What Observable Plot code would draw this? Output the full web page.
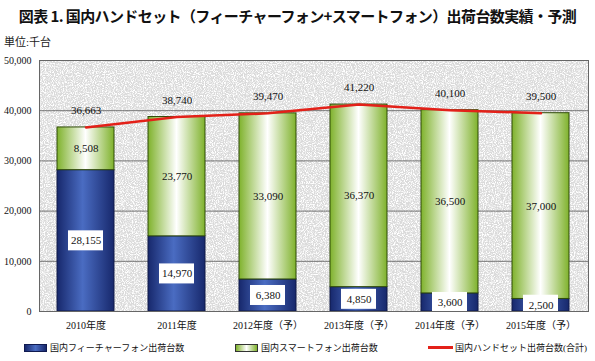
<!DOCTYPE html>
<html><head><meta charset="utf-8">
<script src="https://cdn.jsdelivr.net/npm/d3@7"></script>
<script src="https://cdn.jsdelivr.net/npm/@observablehq/plot@0.6"></script>
<style>
body{margin:0;background:#fff;width:595px;height:361px;position:relative;overflow:hidden;font-family:"Liberation Serif","Noto Sans CJK JP",serif;}
#title{position:absolute;left:0;top:5px;width:595px;text-align:center;font-family:"Noto Sans CJK JP",sans-serif;font-weight:bold;font-size:15px;letter-spacing:-0.6px;color:#111;}
#unit{position:absolute;left:4px;top:33px;font-size:11px;color:#222;}
#chart{position:absolute;left:0;top:50px;}
.leg{position:absolute;top:341px;font-size:9px;color:#111;display:flex;align-items:center;white-space:nowrap;}
.sw{display:inline-block;width:21px;height:6px;margin-right:3px;}
</style></head><body>
<div id="title">図表 1. 国内ハンドセット（フィーチャーフォン+スマートフォン）出荷台数実績・予測</div>
<div id="unit">単位:千台</div>
<div id="chart"></div>
<div class="leg" style="left:24px"><span class="sw" style="background:linear-gradient(90deg,#17286c,#4a6cc2,#17286c);border:1px solid #101a50"></span>国内フィーチャーフォン出荷台数</div>
<div class="leg" style="left:235px"><span class="sw" style="background:linear-gradient(90deg,#7fb22c,#fff,#7fb22c);border:1px solid #333"></span>国内スマートフォン出荷台数</div>
<div class="leg" style="left:428px"><span class="sw" style="height:3px;background:#e32119;width:25px;margin-right:2px;"></span>国内ハンドセット出荷台数(合計)</div>
<script>
const years = ["2010年度","2011年度","2012年度（予）","2013年度（予）","2014年度（予）","2015年度（予）"];
const feature = [28155,14970,6380,4850,3600,2500];
const smart = [8508,23770,33090,36370,36500,37000];
const total = [36663,38740,39470,41220,40100,39500];
const yTicks = [0,10000,20000,30000,40000,50000];

const data = years.map((year,i)=>({year, feature:feature[i], smart:smart[i], total:total[i]}));
const fmt = d3.format(",");
const NS = "http://www.w3.org/2000/svg";
function el(tag, attrs, parent){const e=document.createElementNS(NS,tag);for(const k in attrs)e.setAttribute(k,attrs[k]);if(parent)parent.appendChild(e);return e;}

function background(index, scales, values, dims){
  const g = el("g",{});
  const defs = el("defs",{},g);
  const gb = el("linearGradient",{id:"gBlue",x1:"0",x2:"1",y1:"0",y2:"0"},defs);
  [["0%","#17286c"],["45%","#4a6cc2"],["100%","#17286c"]].forEach(([o,c])=>el("stop",{offset:o,"stop-color":c},gb));
  const gg = el("linearGradient",{id:"gGreen",x1:"0",x2:"1",y1:"0",y2:"0"},defs);
  [["0%","#7fb22c"],["50%","#ffffff"],["100%","#7fb22c"]].forEach(([o,c])=>el("stop",{offset:o,"stop-color":c},gg));
  const f = el("filter",{id:"tex",x:"0",y:"0",width:"100%",height:"100%"},defs);
  el("feTurbulence",{type:"fractalNoise",baseFrequency:"0.9",numOctaves:"3",seed:"4",result:"n"},f);
  el("feColorMatrix",{in:"n",type:"matrix",values:"0 0 0 0 1 0 0 0 0 1 0 0 0 0 1 4 0 0 0 -1.7",result:"w"},f);
  el("feComposite",{in:"w",in2:"SourceGraphic",operator:"in"},f);
  const x = dims.marginLeft, y = dims.marginTop, w = dims.width-dims.marginLeft-dims.marginRight, h = dims.height-dims.marginTop-dims.marginBottom;
  el("rect",{x,y,width:w,height:h,fill:"#dadada"},g);
  el("rect",{x,y,width:w,height:h,fill:"#fff",filter:"url(#tex)"},g);
  return g;
}

const chart = Plot.plot({
  width: 595, height: 285,
  marginLeft: 39, marginRight: 7, marginTop: 10, marginBottom: 24,
  style: {fontFamily: '"Liberation Serif","Noto Sans CJK JP",serif', fontSize: "10px", color: "#111", background: "transparent"},
  x: {domain: years, paddingInner: 0.37, paddingOuter: 0.17, label: null, tickSize: 0, tickPadding: 10},
  y: {domain: [0,50000], ticks: yTicks, tickFormat: fmt, label: null, tickSize: 0, tickPadding: 8},
  marks: [
    background,
    Plot.ruleY(yTicks.slice(1,-1), {stroke: "#555", strokeWidth: 0.8}),
    Plot.barY(data, {x: "year", y1: 0, y2: "feature", fill: "url(#gBlue)", stroke: "#101a48", strokeWidth: 1}),
    Plot.barY(data, {x: "year", y1: "feature", y2: "total", fill: "url(#gGreen)", stroke: "#2f4a08", strokeWidth: 1}),
    Plot.line(data, {x: "year", y: "total", stroke: "#e32119", strokeWidth: 2.5}),
    Plot.barY(data, {x: "year", y1: d => d.feature/2, y2: d => d.feature/2, fill: "white", insetLeft: 11, insetRight: 11, insetTop: -10, insetBottom: -10}),
    Plot.text(data, {x: "year", y: d => d.feature/2, text: d => fmt(d.feature), fontSize: 11, fill: "#111"}),
    Plot.text(data, {x: "year", y: d => d.feature + d.smart/2, text: d => fmt(d.smart), fontSize: 11, fill: "#111"}),
    Plot.text(data, {x: "year", y: "total", dy: -17, text: d => fmt(d.total), fontSize: 11, fill: "#111"}),
    Plot.frame({stroke: "#666"})
  ]
});
document.getElementById("chart").appendChild(chart);
</script>
</body></html>
